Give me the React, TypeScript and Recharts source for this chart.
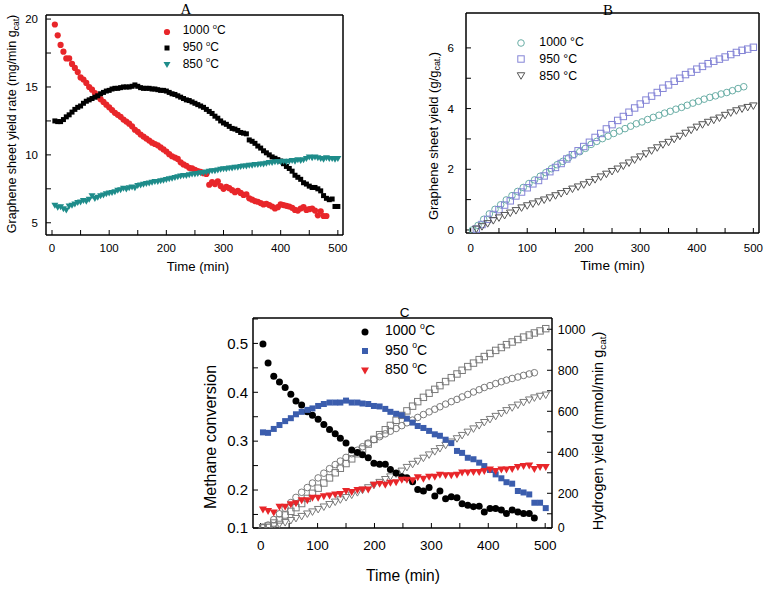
import React from 'react';
import { ScatterChart, Scatter, XAxis, YAxis, Legend, Label } from 'recharts';

const FONT = 'Arial, "Liberation Sans", Helvetica, sans-serif';
const SERIF = '"Liberation Serif", "Times New Roman", serif';

// ---------- Panel A : graphene sheet yield rate ----------
const TIME_A = [5,10,15,20,25,30,35,40,45,50,55,60,65,70,75,80,85,90,95,100,105,110,115,120,125,130,135,140,145,150,155,160,165,170,175,180,185,190,195,200,205,210,215,220,225,230,235,240,245,250,255,260,265,270,275,280,285,290,295,300,305,310,315,320,325,330,335,340,345,350,355,360,365,370,375,380,385,390,395,400,405,410,415,420,425,430,435,440,445,450,455,460,465,470,475,480,485,490,495,500];
const RATE_1000_A = [19.6,18.8,18.1,17.6,17.1,17.1,16.7,16.4,16.1,15.7,15.55,15.3,15.0,14.8,14.55,14.3,14.1,13.9,13.7,13.5,13.3,13.1,12.95,12.8,12.6,12.45,12.3,12.1,11.85,11.7,11.5,11.35,11.2,11.05,10.9,10.8,10.7,10.55,10.4,10.25,10.05,9.9,9.8,9.7,9.45,9.3,9.2,9.05,9.0,8.9,8.8,8.75,8.65,8.6,7.8,8.0,7.85,8.05,7.7,7.5,7.65,7.55,7.4,7.25,7.35,7.2,7.05,7.1,6.8,6.7,6.6,6.55,6.45,6.35,6.4,6.3,6.2,6.05,6.15,6.35,6.3,6.25,6.2,6.1,5.95,5.9,6.05,6.15,5.95,6.0,6.05,5.9,5.55,5.85,5.5,5.5];
const RATE_950_A = [12.5,12.45,12.45,12.6,12.8,12.95,13.15,13.35,13.5,13.6,13.8,13.95,14.05,14.15,14.25,14.35,14.5,14.6,14.7,14.75,14.85,14.9,14.9,14.95,15.0,15.0,15.0,15.05,15.15,15.05,14.95,14.9,14.9,14.9,14.85,14.85,14.8,14.75,14.75,14.7,14.6,14.5,14.45,14.35,14.25,14.15,14.05,14.0,13.9,13.8,13.7,13.6,13.5,13.35,13.2,13.05,12.85,12.7,12.5,12.35,12.25,12.1,11.95,11.9,11.8,11.65,11.6,11.55,11.1,11.0,10.85,10.65,10.5,10.3,10.15,10.0,9.85,9.75,9.65,9.55,9.35,9.15,9.0,8.8,8.5,8.35,8.2,7.95,7.85,7.7,7.6,7.6,7.5,7.35,7.0,6.8,6.7,6.75,6.2,6.2];
const RATE_850_A = [6.25,6.1,6.15,6.0,5.9,6.2,6.25,6.35,6.45,6.5,6.6,6.55,6.7,6.95,6.75,6.85,6.95,7.0,7.1,7.15,7.2,7.25,7.35,7.4,7.5,7.45,7.55,7.6,7.55,7.7,7.75,7.8,7.85,7.9,7.95,8.0,8.0,8.05,8.1,8.15,8.2,8.25,8.3,8.35,8.4,8.45,8.45,8.5,8.55,8.55,8.6,8.65,8.65,8.7,8.75,8.8,8.8,8.85,8.9,8.95,8.95,9.0,9.0,9.05,9.05,9.1,9.15,9.15,9.2,9.2,9.25,9.25,9.3,9.3,9.35,9.4,9.4,9.45,9.45,9.45,9.5,9.45,9.5,9.55,9.5,9.6,9.55,9.6,9.7,9.8,9.75,9.8,9.75,9.7,9.65,9.75,9.7,9.7,9.65,9.7];

// ---------- Panel B : cumulative graphene sheet yield ----------
const TIME_B1 = [3,13,23,33,43,53,63,73,83,93,103,113,123,133,143,153,163,173,183,193,203,213,223,233,243,253,263,273,283,293,303,313,323,333,343,353,363,373,383,393,403,413,423,433,443,453,463,473,483];
const TIME_B = [10,20,30,40,50,60,70,80,90,100,110,120,130,140,150,160,170,180,190,200,210,220,230,240,250,260,270,280,290,300,310,320,330,340,350,360,370,380,390,400,410,420,430,440,450,460,470,480,490,500];
const YIELD_1000_B = [0.0,0.15,0.35,0.53,0.68,0.83,0.99,1.13,1.27,1.4,1.53,1.65,1.77,1.89,2.02,2.15,2.26,2.38,2.49,2.58,2.69,2.82,2.92,3.01,3.09,3.18,3.26,3.34,3.42,3.5,3.56,3.64,3.71,3.78,3.85,3.91,3.98,4.04,4.11,4.18,4.24,4.31,4.37,4.42,4.48,4.53,4.59,4.66,4.72];
const YIELD_950_B = [0.03,0.18,0.35,0.51,0.67,0.82,0.96,1.12,1.25,1.39,1.52,1.63,1.78,1.92,2.06,2.19,2.34,2.48,2.61,2.75,2.89,3.05,3.18,3.33,3.47,3.61,3.74,3.88,4.02,4.15,4.28,4.41,4.53,4.67,4.78,4.9,5.0,5.12,5.2,5.3,5.39,5.48,5.56,5.63,5.7,5.78,5.85,5.92,5.96,6.02];
const YIELD_850_B = [0.02,0.1,0.2,0.3,0.39,0.47,0.55,0.63,0.72,0.79,0.85,0.92,0.98,1.05,1.12,1.19,1.26,1.34,1.41,1.48,1.56,1.65,1.74,1.83,1.92,2.0,2.1,2.2,2.3,2.4,2.5,2.6,2.7,2.8,2.88,2.98,3.08,3.18,3.28,3.38,3.46,3.54,3.61,3.68,3.77,3.85,3.92,3.98,4.03,4.08];

// ---------- Panel C : methane conversion & hydrogen yield ----------
const TIME_C = [4,13,23,33,43,53,62,72,82,91,101,111,121,131,140,150,160,170,179,189,199,209,219,228,238,248,257,267,276,286,296,306,315,325,335,345,354,364,374,384,393,403,413,423,432,442,452,462,472,481,491,501];
const CONV_1000_C = [0.499,0.46,0.433,0.421,0.41,0.396,0.382,0.374,0.36,0.353,0.345,0.334,0.324,0.315,0.306,0.296,0.282,0.277,0.272,0.266,0.255,0.253,0.253,0.242,0.235,0.227,0.225,0.217,0.201,0.198,0.205,0.188,0.198,0.182,0.186,0.184,0.172,0.169,0.166,0.167,0.155,0.162,0.162,0.159,0.152,0.159,0.155,0.152,0.152,0.143];
const CONV_950_C = [0.318,0.317,0.325,0.333,0.341,0.347,0.355,0.36,0.364,0.367,0.372,0.376,0.379,0.379,0.379,0.383,0.379,0.379,0.377,0.376,0.372,0.371,0.366,0.36,0.356,0.353,0.346,0.338,0.331,0.327,0.321,0.314,0.311,0.303,0.296,0.28,0.276,0.266,0.263,0.256,0.249,0.241,0.232,0.224,0.216,0.213,0.198,0.195,0.191,0.174,0.174,0.163];
const CONV_850_C = [0.159,0.156,0.153,0.165,0.165,0.17,0.172,0.178,0.178,0.183,0.183,0.186,0.188,0.19,0.191,0.197,0.195,0.199,0.2,0.2,0.21,0.212,0.21,0.214,0.215,0.22,0.22,0.219,0.225,0.222,0.226,0.226,0.23,0.229,0.229,0.23,0.235,0.235,0.236,0.236,0.238,0.241,0.238,0.241,0.241,0.242,0.246,0.248,0.249,0.242,0.246,0.246];
const H2_1000_C = [35,45,72,100,127,155,180,205,228,250,275,298,320,340,357,375,393,410,427,445,462,476,490,503,516,530,544,557,570,584,597,610,622,635,647,658,670,682,694,705,716,725,735,744,752,760,767,775,782,788];
const H2_950_C = [32,40,55,70,94,112,130,150,175,200,225,250,275,300,322,345,368,393,416,440,463,486,510,531,556,580,602,625,647,668,688,707,725,745,764,782,800,818,835,852,867,882,897,911,925,938,950,962,972,982,992,1003];
const H2_850_C = [31,33,40,48,56,66,76,86,98,108,120,132,144,156,167,178,190,202,214,226,238,252,266,279,293,307,325,340,355,370,386,402,417,433,449,465,481,497,513,529,544,559,574,588,602,616,629,642,654,664,672,678];

const TEMPS = ['1000', '950', '850'];

// ticks
const X_TICKS = [0, 50, 100, 150, 200, 250, 300, 350, 400, 450, 500];
const YA_TICKS = [5, 7.5, 10, 12.5, 15, 17.5, 20];
const YB_TICKS = [0, 1, 2, 3, 4, 5, 6];
const YC_MIN = 0.1223;
const YC_TICKS = [YC_MIN, 0.15, 0.2, 0.25, 0.3, 0.35, 0.4, 0.45, 0.5, 0.55];
const HC_MIN = 30.7;
const HC_TICKS = [HC_MIN, 100, 200, 300, 400, 500, 600, 700, 800, 900, 1000];

const zip = (ts: number[], vs: number[]) => vs.map((v, i) => ({ t: ts[i], v }));

// marker drawers
type Mk = (cx: number, cy: number) => React.ReactElement;
const dot = (r: number, c: string): Mk => (cx, cy) => <circle cx={cx} cy={cy} r={r} fill={c} />;
const ring = (r: number, c: string): Mk => (cx, cy) => <circle cx={cx} cy={cy} r={r} fill="none" stroke={c} strokeWidth={1} />;
const sq = (s: number, c: string): Mk => (cx, cy) => <rect x={cx - s / 2} y={cy - s / 2} width={s} height={s} fill={c} />;
const box = (s: number, c: string): Mk => (cx, cy) => <rect x={cx - s / 2} y={cy - s / 2} width={s} height={s} fill="none" stroke={c} strokeWidth={1} />;
const tri = (w: number, h: number, c: string, filled: boolean): Mk => (cx, cy) => (
  <polygon points={`${cx - w / 2},${cy - h / 2} ${cx + w / 2},${cy - h / 2} ${cx},${cy + h / 2}`} fill={filled ? c : 'none'} stroke={filled ? 'none' : c} strokeWidth={1} />
);
const shapeOf = (mk: Mk) => (p: any) => mk(p.cx, p.cy);

const RED = '#e8262a';
const TEAL = '#1e8c8a';
const BLUE = '#3b5dad';
const GRAY = '#7a7a7a';

const MK_A = [dot(3.1, RED), sq(5, '#000'), tri(7, 6, TEAL, true)];
const MK_B = [ring(3.3, '#6aaea6'), box(6.4, '#8484d6'), tri(7.5, 6.5, '#555', false)];
const MK_C = [dot(3.5, '#000'), sq(6, BLUE), tri(8, 7, RED, true)];
const MK_CH = [ring(3.3, GRAY), box(6.4, GRAY), tri(7.5, 6.5, GRAY, false)];

const AX = { stroke: '#000', strokeWidth: 1.5 };
const TL = { stroke: '#000', strokeWidth: 1 };

const fmtX = (v: number) => (v % 100 === 0 ? String(v) : '');
const fmtYA = (v: number) => (v % 5 === 0 ? String(v) : '');
const fmtYB = (v: number) => (v % 2 === 0 ? String(v) : '');
const fmtYC = (v: number) => (v < 0.13 ? '0.1' : Math.round(v * 100) % 10 === 0 ? v.toFixed(1) : '');
const fmtHC = (v: number) => (v < 50 ? '0' : v % 200 === 0 ? String(v) : '');

const tickStyle = (fs: number) => ({ fill: '#000', fontSize: fs, fontFamily: FONT });

const Sup = ({ children }: { children: React.ReactNode }) => (
  <span style={{ fontSize: '0.62em', position: 'relative', top: '-0.75em' }}>{children}</span>
);

const LegendBlock = ({ marks, gap, rowH, fontSize, degree }: { marks: Mk[]; gap: number; rowH: number; fontSize: number; degree: 'sup' | 'deg' }) => (
  <div style={{ fontFamily: FONT, fontSize, color: '#000' }}>
    {TEMPS.map((t, i) => (
      <div key={t} style={{ display: 'flex', alignItems: 'center', height: rowH }}>
        <svg width={12} height={12} style={{ display: 'block' }}>{marks[i](6, 6)}</svg>
        <span style={{ marginLeft: gap, whiteSpace: 'nowrap', lineHeight: `${rowH}px` }}>
          {degree === 'sup' ? (<>{t} <Sup>o</Sup>C</>) : `${t} \u00B0C`}
        </span>
      </div>
    ))}
  </div>
);

const VText = ({ x, y, fs, main, sub, tail }: { x: number; y: number; fs: number; main: string; sub: string; tail: string }) => (
  <text x={x} y={y} transform={`rotate(-90 ${x} ${y})`} textAnchor="middle" dominantBaseline="central" fontSize={fs} fontFamily={FONT} fill="#000">
    {main}
    <tspan fontSize={fs * 0.68} dy={fs * 0.28}>{sub}</tspan>
    <tspan dy={-fs * 0.28}>{tail}</tspan>
  </text>
);

const HText = ({ x, y, fs, text, family }: { x: number; y: number; fs: number; text: string; family?: string }) => (
  <text x={x} y={y} textAnchor="middle" dominantBaseline="central" fontSize={fs} fontFamily={family || FONT} fill="#000">{text}</text>
);

// closing edges of the plot frame (top / right), drawn as tick-less axes
const TopEdge = ({ xd }: { xd: [number, number] }) => (
  <XAxis xAxisId="top" orientation="top" type="number" domain={xd} allowDataOverflow ticks={X_TICKS}
    height={1} tick={false} tickLine={false} axisLine={AX} />
);
const RightEdge = () => (
  <YAxis yAxisId="edge" orientation="right" type="number" domain={[0, 1]} allowDataOverflow ticks={[0, 1]}
    width={1} tick={false} tickLine={false} axisLine={AX} />
);

function ChartA() {
  const xd: [number, number] = [-10.5, 509];
  const yd: [number, number] = [4.1, 20.3];
  const series = [RATE_1000_A, RATE_950_A, RATE_850_A];
  return (
    <ScatterChart width={380} height={280} margin={{ top: 14, right: 36, bottom: 0, left: 0 }}>
      <XAxis xAxisId="b" type="number" dataKey="t" domain={xd} allowDataOverflow ticks={X_TICKS} interval={0}
        tickFormatter={fmtX} tickSize={-5} tickMargin={14} height={45} axisLine={AX} tickLine={TL} tick={tickStyle(11.5)}>
        <Label content={() => (
          <g>
            <HText x={198} y={266} fs={13.2} text="Time (min)" />
            <HText x={186} y={9} fs={15} text="A" family={SERIF} />
          </g>
        )} />
      </XAxis>
      {TopEdge({ xd })}
      <YAxis yAxisId="l" type="number" dataKey="v" domain={yd} allowDataOverflow ticks={YA_TICKS} interval={0}
        tickFormatter={fmtYA} tickSize={-5} tickMargin={13} width={46} axisLine={AX} tickLine={TL} tick={tickStyle(11.5)}>
        <Label content={() => <VText x={12} y={124} fs={12.5} main="Graphene sheet yield rate (mg/min g" sub="cat" tail=")" />} />
      </YAxis>
      {RightEdge()}
      {series.map((s, i) => (
        <Scatter key={i} name={TEMPS[i]} xAxisId="b" yAxisId="l" data={zip(TIME_A, s)} shape={shapeOf(MK_A[i])} isAnimationActive={false} />
      ))}
      <Legend layout="vertical" align="center" verticalAlign="middle" wrapperStyle={{ left: 160.7, top: 23.3, width: 'auto' }}
        content={() => <LegendBlock marks={MK_A} gap={10} rowH={16.8} fontSize={12} degree="sup" />} />
    </ScatterChart>
  );
}

function ChartB() {
  const xd: [number, number] = [-8.3, 510];
  const yd: [number, number] = [-0.1, 7.15];
  return (
    <ScatterChart width={385} height={280} margin={{ top: 12, right: 5, bottom: 0, left: 0 }}>
      <XAxis xAxisId="b" type="number" dataKey="t" domain={xd} allowDataOverflow ticks={X_TICKS} interval={0}
        tickFormatter={fmtX} tickSize={-5} tickMargin={16} height={47} axisLine={AX} tickLine={TL} tick={tickStyle(11.5)}>
        <Label content={() => (
          <g>
            <HText x={232.5} y={265} fs={13.6} text="Time (min)" />
            <HText x={228} y={10} fs={15} text="B" family={SERIF} />
          </g>
        )} />
      </XAxis>
      {TopEdge({ xd })}
      <YAxis yAxisId="l" type="number" dataKey="v" domain={yd} allowDataOverflow ticks={YB_TICKS} interval={0}
        tickFormatter={fmtYB} tickSize={-5} tickMargin={17} width={86} axisLine={AX} tickLine={TL} tick={tickStyle(11.5)}>
        <Label content={() => <VText x={53} y={136} fs={13} main="Graphene sheet yield (g/g" sub="cat." tail=")" />} />
      </YAxis>
      {RightEdge()}
      <Scatter name={TEMPS[0]} xAxisId="b" yAxisId="l" data={zip(TIME_B1, YIELD_1000_B)} shape={shapeOf(MK_B[0])} isAnimationActive={false} />
      <Scatter name={TEMPS[1]} xAxisId="b" yAxisId="l" data={zip(TIME_B, YIELD_950_B)} shape={shapeOf(MK_B[1])} isAnimationActive={false} />
      <Scatter name={TEMPS[2]} xAxisId="b" yAxisId="l" data={zip(TIME_B, YIELD_850_B)} shape={shapeOf(MK_B[2])} isAnimationActive={false} />
      <Legend layout="vertical" align="center" verticalAlign="middle" wrapperStyle={{ left: 135, top: 34.3, width: 'auto' }}
        content={() => <LegendBlock marks={MK_B} gap={12.3} rowH={16.7} fontSize={12.3} degree="deg" />} />
    </ScatterChart>
  );
}

function ChartC() {
  const xd: [number, number] = [-13.5, 512];
  const yd: [number, number] = [YC_MIN, 0.552];
  return (
    <ScatterChart width={420} height={299} margin={{ top: 27, right: 0, bottom: 0, left: 0 }}>
      <XAxis xAxisId="b" type="number" dataKey="t" domain={xd} allowDataOverflow ticks={X_TICKS} interval={0}
        tickFormatter={fmtX} tickSize={-5} tickMargin={17} height={61} axisLine={AX} tickLine={TL} tick={tickStyle(13.5)}>
        <Label content={() => (
          <g>
            <HText x={208} y={285} fs={15.6} text="Time (min)" />
            <HText x={209.7} y={22.3} fs={13.5} text="C" />
          </g>
        )} />
      </XAxis>
      {TopEdge({ xd })}
      <YAxis yAxisId="l" type="number" dataKey="v" domain={yd} allowDataOverflow ticks={YC_TICKS} interval={0}
        tickFormatter={fmtYC} tickSize={-5} tickMargin={10} width={58} axisLine={AX} tickLine={TL} tick={tickStyle(15)}>
        <Label content={() => (
          <text x={15} y={147} transform="rotate(-90 15 147)" textAnchor="middle" dominantBaseline="central" fontSize={16} fontFamily={FONT} fill="#000">Methane conversion</text>
        )} />
      </YAxis>
      <YAxis yAxisId="h" orientation="right" type="number" dataKey="v" domain={[HC_MIN, 1055]} allowDataOverflow ticks={HC_TICKS} interval={0}
        tickFormatter={fmtHC} tickSize={-5} tickMargin={10.7} width={63} axisLine={AX} tickLine={TL} tick={tickStyle(12.5)}>
        <Label content={() => <VText x={403} y={141} fs={14.5} main="Hydrogen yield (mmol/min g" sub="cat" tail=")" />} />
      </YAxis>
      <Scatter name={TEMPS[0] + 'h'} xAxisId="b" yAxisId="h" data={zip(TIME_C, H2_1000_C)} shape={shapeOf(MK_CH[0])} isAnimationActive={false} legendType="none" />
      <Scatter name={TEMPS[1] + 'h'} xAxisId="b" yAxisId="h" data={zip(TIME_C, H2_950_C)} shape={shapeOf(MK_CH[1])} isAnimationActive={false} legendType="none" />
      <Scatter name={TEMPS[2] + 'h'} xAxisId="b" yAxisId="h" data={zip(TIME_C, H2_850_C)} shape={shapeOf(MK_CH[2])} isAnimationActive={false} legendType="none" />
      <Scatter name={TEMPS[0]} xAxisId="b" yAxisId="l" data={zip(TIME_C, CONV_1000_C)} shape={shapeOf(MK_C[0])} isAnimationActive={false} />
      <Scatter name={TEMPS[1]} xAxisId="b" yAxisId="l" data={zip(TIME_C, CONV_950_C)} shape={shapeOf(MK_C[1])} isAnimationActive={false} />
      <Scatter name={TEMPS[2]} xAxisId="b" yAxisId="l" data={zip(TIME_C, CONV_850_C)} shape={shapeOf(MK_C[2])} isAnimationActive={false} />
      <Legend layout="vertical" align="center" verticalAlign="middle" wrapperStyle={{ left: 164, top: 32, width: 'auto' }}
        content={() => <LegendBlock marks={MK_C} gap={14} rowH={19.5} fontSize={14} degree="sup" />} />
    </ScatterChart>
  );
}

export default function App() {
  return (
    <div style={{ position: 'absolute', left: 0, top: 0, width: 765, height: 589, background: '#fff', fontFamily: FONT }}>
      <div style={{ position: 'absolute', left: 0, top: 0 }}><ChartA /></div>
      <div style={{ position: 'absolute', left: 380, top: 0 }}><ChartB /></div>
      <div style={{ position: 'absolute', left: 195, top: 290 }}><ChartC /></div>
    </div>
  );
}
